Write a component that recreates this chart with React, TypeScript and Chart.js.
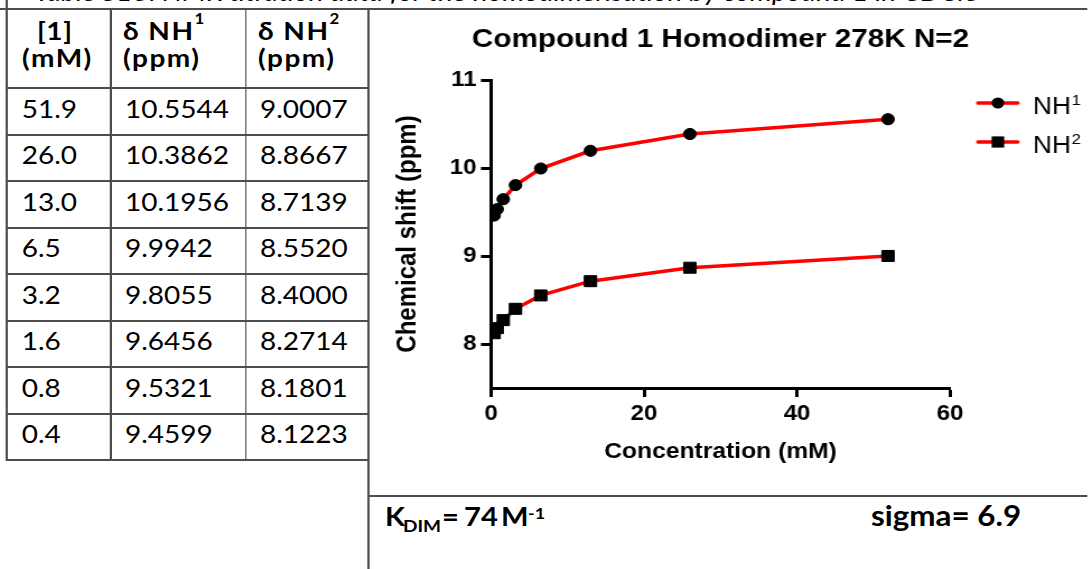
import React, { useEffect, useRef } from "react";
import { Chart, registerables } from "chart.js";

Chart.register(...registerables);

// ---------------- data ----------------
const concentrationsMM = [51.9, 26.0, 13.0, 6.5, 3.2, 1.6, 0.8, 0.4];
const shiftNH1 = [10.5544, 10.3862, 10.1956, 9.9942, 9.8055, 9.6456, 9.5321, 9.4599];
const shiftNH2 = [9.0007, 8.8667, 8.7139, 8.552, 8.4, 8.2714, 8.1801, 8.1223];
const seriesLabels = ["NH", "NH"];
const seriesSuperscripts = ["1", "2"];
const xTickValues = [0, 20, 40, 60];
const yTickValues = [8, 9, 10, 11];
const chartTitle = "Compound 1 Homodimer 278K N=2";
const xAxisTitle = "Concentration (mM)";
const yAxisTitle = "Chemical shift (ppm)";
const kDimValue = "74";
const sigmaValue = "6.9";
const captionText = "Table S13: NMR titration data for the homodimerisation by compound 1 in CDCl3";

// ---------------- layout constants ----------------
const SX = 1.12; // horizontal stretch of the whole figure
const AXIS_FONT = '"Liberation Sans", Arial, Helvetica, sans-serif';
const TEXT_FONT = 'Lato, "Open Sans", sans-serif';
const LINE = "#4d4d4d";

const colLefts = [6.25, 98.8, 219.3, 329];
const headerTop = 9;
const headerBottom = 88;
const rowH = 46.5;

function TitrationChart() {
  const ref = useRef<HTMLCanvasElement>(null);
  useEffect(() => {
    const canvas = ref.current!;
    const toPoints = (ys: number[]) =>
      concentrationsMM.map((x, i) => ({ x, y: ys[i] })).sort((a, b) => a.x - b.x);

    // Title drawn without Chart.js's maxWidth compression
    const titlePlugin = {
      id: "wideTitle",
      afterDraw(chart: any) {
        const ctx = chart.ctx as CanvasRenderingContext2D;
        const { left, right } = chart.chartArea;
        ctx.save();
        ctx.fillStyle = "#000";
        ctx.font = `bold 26.5px ${AXIS_FONT}`;
        ctx.textAlign = "center";
        ctx.textBaseline = "alphabetic";
        ctx.fillText(chartTitle, (left + right) / 2, 37);
        ctx.restore();
      },
    };

    const legendPlugin = {
      id: "lineMarkerLegend",
      afterDraw(chart: any) {
        const ctx = chart.ctx as CanvasRenderingContext2D;
        const right = chart.chartArea.right;
        chart.data.datasets.forEach((ds: any, i: number) => {
          const y = 93 + i * 39;
          ctx.save();
          ctx.strokeStyle = ds.borderColor;
          ctx.lineWidth = 3.5;
          ctx.lineCap = "round";
          ctx.beginPath();
          ctx.moveTo(right + 25, y);
          ctx.lineTo(right + 60.5, y);
          ctx.stroke();
          ctx.fillStyle = "#000";
          const mx = right + 42.8;
          if (ds.pointStyle === "rect") {
            const s = 5.6;
            ctx.fillRect(mx - s, y - s, 2 * s, 2 * s);
          } else {
            ctx.beginPath();
            ctx.arc(mx, y, 5.6, 0, Math.PI * 2);
            ctx.fill();
          }
          ctx.textBaseline = "alphabetic";
          ctx.textAlign = "left";
          ctx.font = `23.5px ${AXIS_FONT}`;
          const tx = right + 74;
          ctx.fillText(seriesLabels[i], tx, y + 10.5);
          const w = ctx.measureText(seriesLabels[i]).width;
          ctx.font = `15px ${AXIS_FONT}`;
          ctx.fillText(seriesSuperscripts[i], tx + w + 0.5, y + 1.5);
          ctx.restore();
        });
      },
    };

    const tickFont = { family: AXIS_FONT, size: 21.5, weight: "bold" as const };
    const gridOpts = {
      display: true,
      drawOnChartArea: false,
      drawTicks: true,
      tickLength: 9,
      tickWidth: 3,
      tickColor: "#000",
    };

    const chart = new Chart(canvas, {
      type: "line",
      data: {
        datasets: [
          {
            label: "NH1",
            data: toPoints(shiftNH1),
            borderColor: "#ff0000",
            borderWidth: 3.5,
            pointStyle: "circle",
            pointRadius: 5.6,
            pointBackgroundColor: "#000",
            pointBorderColor: "#000",
            pointBorderWidth: 1,
            tension: 0,
            fill: false,
          },
          {
            label: "NH2",
            data: toPoints(shiftNH2),
            borderColor: "#ff0000",
            borderWidth: 3.5,
            pointStyle: "rect",
            pointRadius: 7.8,
            pointBackgroundColor: "#000",
            pointBorderColor: "#000",
            pointBorderWidth: 1,
            tension: 0,
            fill: false,
          },
        ],
      },
      options: {
        animation: false,
        responsive: false,
        maintainAspectRatio: false,
        events: [],
        layout: { padding: { left: 0, right: 123.8, top: 70, bottom: 0 } },
        plugins: {
          legend: { display: false },
          tooltip: { enabled: false },
          title: { display: false },
        },
        scales: {
          x: {
            type: "linear",
            min: 0,
            max: 60,
            afterBuildTicks: (s: any) => {
              s.ticks = xTickValues.map((v) => ({ value: v }));
            },
            afterFit: (s: any) => {
              s.height = 107;
            },
            grid: gridOpts,
            border: { display: true, color: "#000", width: 3 },
            ticks: { color: "#000", font: tickFont, padding: 4.5, maxRotation: 0, autoSkip: false },
            title: {
              display: true,
              text: xAxisTitle,
              color: "#000",
              font: { family: AXIS_FONT, size: 22, weight: "bold", lineHeight: 1.2 },
              padding: { top: 0, bottom: 30 },
            },
          },
          y: {
            type: "linear",
            min: 7.5,
            max: 11,
            afterBuildTicks: (s: any) => {
              s.ticks = yTickValues.map((v) => ({ value: v }));
            },
            afterFit: (s: any) => {
              s.width = 108.4;
            },
            grid: gridOpts,
            border: { display: true, color: "#000", width: 3 },
            ticks: { color: "#000", font: tickFont, padding: 4, autoSkip: false },
            title: {
              display: true,
              text: yAxisTitle,
              color: "#000",
              font: { family: AXIS_FONT, size: 24, weight: "bold", lineHeight: 1.2 },
              padding: { top: 19.6, bottom: 0 },
            },
          },
        },
      } as any,
      plugins: [titlePlugin, legendPlugin],
    });
    return () => chart.destroy();
  }, []);
  return (
    <canvas
      ref={ref}
      width={642}
      height={485}
      style={{ position: "absolute", left: 330, top: 10, width: 642, height: 485, display: "block" }}
    />
  );
}

function Txt(props: {
  left: number;
  baseline: number;
  size: number;
  bold?: boolean;
  italic?: boolean;
  spacing?: number;
  children: React.ReactNode;
}) {
  const { left, baseline, size, bold, italic, spacing, children } = props;
  return (
    <div
      style={{
        position: "absolute",
        left,
        top: baseline - 0.987 * size,
        fontSize: size,
        lineHeight: 1.2,
        fontWeight: bold ? 700 : 400,
        fontStyle: italic ? "italic" : "normal",
        letterSpacing: spacing ?? 0,
        whiteSpace: "nowrap",
        fontFamily: TEXT_FONT,
        color: "#000",
      }}
    >
      {children}
    </div>
  );
}

function HLine(p: { left: number; top: number; width: number; h?: number }) {
  return (
    <div
      style={{
        position: "absolute",
        left: p.left,
        top: p.top,
        width: p.width,
        height: p.h ?? 2,
        background: LINE,
      }}
    />
  );
}
function VLine(p: { left: number; top: number; height: number }) {
  return (
    <div
      style={{
        position: "absolute",
        left: p.left - 0.8,
        top: p.top,
        width: 1.7,
        height: p.height,
        background: LINE,
      }}
    />
  );
}

const u = (pageX: number) => pageX / SX;

export default function App() {
  useEffect(() => {
    document.documentElement.style.overflow = "hidden";
    document.body.style.overflow = "hidden";
  }, []);

  const rowTops = concentrationsMM.map((_, r) => headerBottom + r * rowH);
  const tableBottom = headerBottom + concentrationsMM.length * rowH;
  const supStyle: React.CSSProperties = { fontSize: 15, verticalAlign: "16px", lineHeight: 0, letterSpacing: 0 };
  const HS = 1.3; // header letter spacing

  return (
    <div
      style={{
        position: "absolute",
        left: 0,
        top: 0,
        width: 971,
        height: 569,
        overflow: "hidden",
        background: "#fff",
        transform: `scaleX(${SX})`,
        transformOrigin: "0 0",
      }}
    >
      {/* clipped caption line above the table */}
      <div style={{ position: "absolute", left: 0, top: 0, width: 971, height: 8, overflow: "hidden" }}>
        <Txt left={31} baseline={0.5} size={25} italic>
          {captionText}
        </Txt>
      </div>
      <HLine left={0} top={8} width={971} />

      {/* table grid */}
      <VLine left={colLefts[0]} top={0} height={tableBottom + 1} />
      <VLine left={colLefts[1]} top={headerTop} height={tableBottom - headerTop + 1} />
      <VLine left={colLefts[2]} top={headerTop} height={tableBottom - headerTop + 1} />
      <VLine left={colLefts[3]} top={headerTop} height={569 - headerTop} />
      {rowTops.map((t, i) => (
        <HLine key={i} left={colLefts[0]} top={t - 1} width={colLefts[3] - colLefts[0]} />
      ))}
      <HLine left={colLefts[0]} top={tableBottom - 1} width={colLefts[3] - colLefts[0]} />

      {/* header */}
      <Txt left={u(37)} baseline={40} size={25} bold spacing={0.5}>
        [1]
      </Txt>
      <Txt left={u(22)} baseline={67} size={25} bold spacing={HS}>
        (mM)
      </Txt>
      <Txt left={u(123)} baseline={40} size={25} bold spacing={HS}>
        δ NH<span style={supStyle}>1</span>
      </Txt>
      <Txt left={u(123)} baseline={67} size={25} bold spacing={HS}>
        (ppm)
      </Txt>
      <Txt left={u(258)} baseline={40} size={25} bold spacing={HS}>
        δ NH<span style={supStyle}>2</span>
      </Txt>
      <Txt left={u(258)} baseline={67} size={25} bold spacing={HS}>
        (ppm)
      </Txt>

      {/* body */}
      {concentrationsMM.map((c, r) => (
        <React.Fragment key={r}>
          <Txt left={19.4} baseline={rowTops[r] + 29.5} size={25}>
            {c.toFixed(1)}
          </Txt>
          <Txt left={111.6} baseline={rowTops[r] + 29.5} size={25}>
            {shiftNH1[r].toFixed(4)}
          </Txt>
          <Txt left={232.1} baseline={rowTops[r] + 29.5} size={25}>
            {shiftNH2[r].toFixed(4)}
          </Txt>
        </React.Fragment>
      ))}

      <TitrationChart />

      {/* bottom strip */}
      <HLine left={colLefts[3]} top={495} width={971 - colLefts[3]} />
      <Txt left={u(385)} baseline={527} size={26} bold>
        K
      </Txt>
      <Txt left={u(403)} baseline={532.5} size={17} bold>
        DIM
      </Txt>
      <Txt left={u(442)} baseline={527} size={26} bold>
        =
      </Txt>
      <Txt left={u(464)} baseline={527} size={26} bold>
        {kDimValue}
      </Txt>
      <Txt left={u(501)} baseline={527} size={26} bold>
        M
      </Txt>
      <Txt left={u(528)} baseline={519} size={16} bold>
        -1
      </Txt>
      <Txt left={u(871)} baseline={527} size={28} bold>
        sigma= {sigmaValue}
      </Txt>
    </div>
  );
}
